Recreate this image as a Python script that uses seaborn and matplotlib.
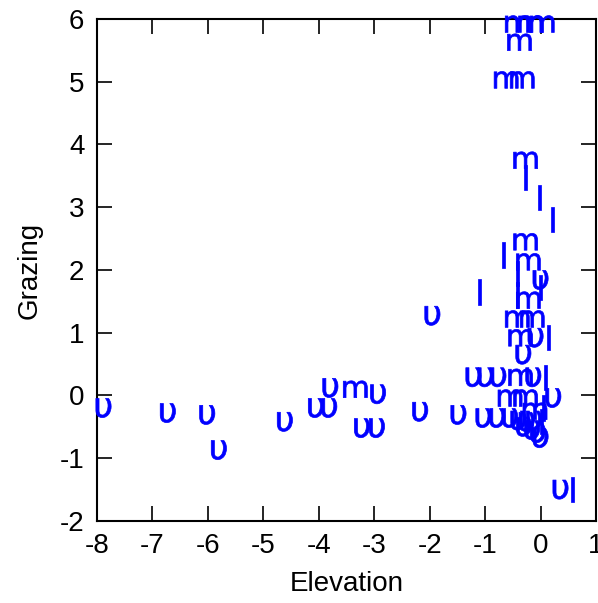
import matplotlib
matplotlib.use("Agg")
import matplotlib.pyplot as plt
import pandas as pd
import seaborn as sns

# Elevation / grazing observations, split by shore zone (u = upper, m = middle, l = lower)
elev_u = [-7.88, -6.72, -6.01, -5.80, -4.61, -4.05, -3.81, -3.79, -2.93, -3.22,
          -2.95, -2.17, -1.95, -1.48, -1.21, -0.99, -0.76, -1.03, -0.78, -0.55,
          -0.40, -0.25, -0.12, -0.30, -0.15, 0.00, -0.05, 0.00, -0.09, -0.31,
          -0.13, 0.23, 0.36]
graz_u = [-0.20, -0.28, -0.31, -0.87, -0.42, -0.20, -0.20, 0.12, 0.02, -0.52,
          -0.52, -0.26, 1.27, -0.31, 0.29, 0.29, 0.29, -0.36, -0.36, -0.36,
          -0.40, -0.42, -0.40, -0.50, -0.55, -0.68, -0.60, 1.84, 0.92, 0.65,
          0.29, -0.04, -1.50]

elev_m = [-0.42, -0.18, 0.03, -0.38, -0.62, -0.33, -0.27, -0.27, -0.22, -0.22,
          -0.42, -0.15, -0.36, -0.36, -3.34, -0.55, -0.27, -0.10]
graz_m = [5.92, 5.92, 5.92, 5.63, 5.03, 5.03, 3.75, 2.45, 2.13, 1.52,
          1.22, 1.22, 0.92, 0.29, 0.10, -0.04, -0.04, -0.25]

elev_l = [-0.27, -0.02, 0.21, -0.67, -1.10, -0.42, -0.42, 0.14, 0.09, 0.00,
          0.57, 0.05, 0.02]
graz_l = [3.47, 3.16, 2.81, 2.24, 1.65, 1.95, 1.60, 0.92, 0.29, 1.72,
          -1.50, -0.20, -0.42]

x_ticks = [-8, -7, -6, -5, -4, -3, -2, -1, 0, 1]
y_ticks = [-2, -1, 0, 1, 2, 3, 4, 5, 6]

df = pd.DataFrame({
    "Elevation": elev_u + elev_m + elev_l,
    "Grazing": graz_u + graz_m + graz_l,
    "zone": ["u"] * len(elev_u) + ["m"] * len(elev_m) + ["l"] * len(elev_l),
})

sns.set_style("ticks", {"xtick.direction": "in", "ytick.direction": "in"})
plt.rcParams["font.family"] = ["Liberation Sans", "DejaVu Sans"]
plt.rcParams["mathtext.fontset"] = "dejavusans"
plt.rcParams["axes.unicode_minus"] = False

fig = plt.figure(figsize=(5.98, 6.03), dpi=100)
ax = fig.add_axes([0.162, 0.136, 0.9967 - 0.162, 0.9685 - 0.136])

zone_markers = {"u": r"$\mathrm{υ}$", "m": r"$\mathrm{m}$", "l": r"$\mathrm{l}$"}
zone_sizes = {"u": 190, "m": 300, "l": 330}

sns.scatterplot(data=df, x="Elevation", y="Grazing", style="zone", size="zone",
                markers=zone_markers, sizes=zone_sizes, color="#0000ff",
                edgecolor="#0000ff", linewidth=0.5, legend=False, ax=ax,
                clip_on=False, zorder=3)

ax.set_xlim(-8, 1)
ax.set_ylim(-2, 6)
ax.set_xticks(x_ticks)
ax.set_yticks(y_ticks)
ax.tick_params(axis="both", which="major", top=True, right=True, length=11,
               width=1.2, color="black", labelsize=20, labelcolor="black", pad=9)
for sp in ax.spines.values():
    sp.set_visible(True)
    sp.set_linewidth(1.5)
    sp.set_color("black")

ax.set_xlabel("Elevation", fontsize=20, color="black", labelpad=8)
ax.set_ylabel("Grazing", fontsize=20, color="black", labelpad=12)

fig.savefig("out.png", dpi=100)
